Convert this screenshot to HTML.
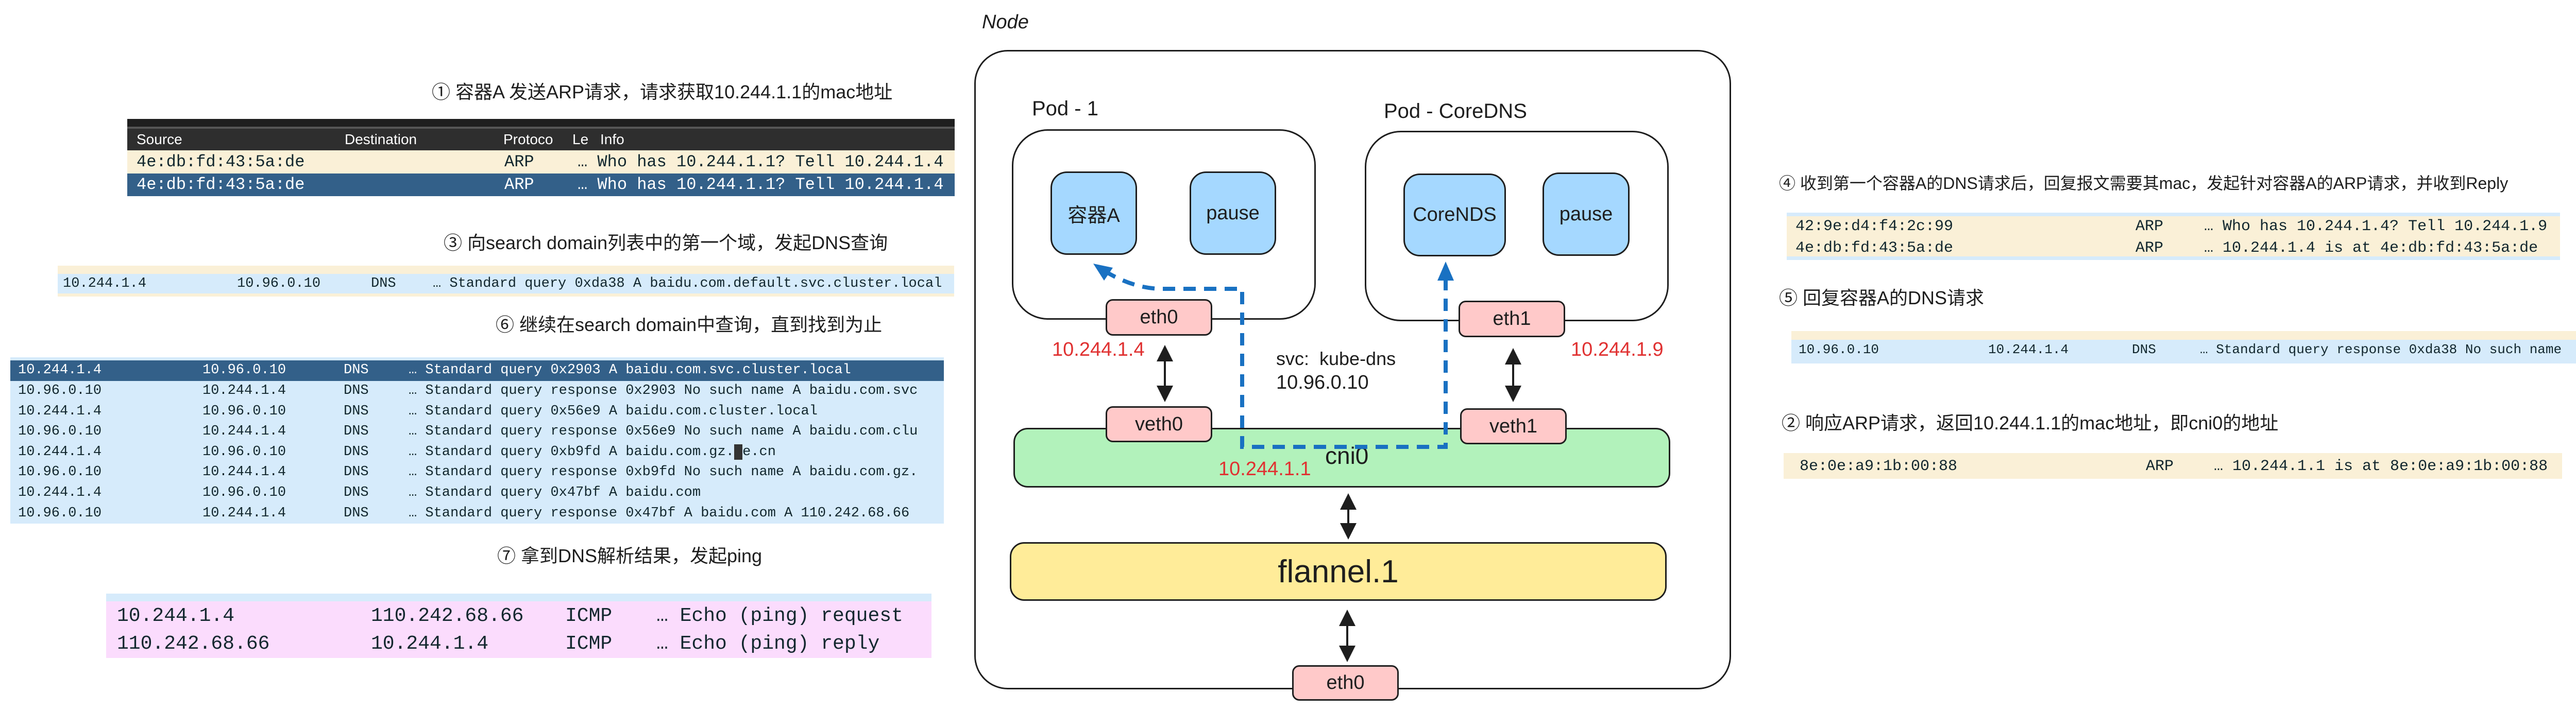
<!DOCTYPE html>
<html><head><meta charset="utf-8"><style>
body{margin:0;width:5232px;height:1381px;background:#fff;position:relative;overflow:hidden;font-family:"Liberation Sans","Noto Sans CJK SC",sans-serif;}
.a{position:absolute;white-space:pre;}
.h{position:absolute;white-space:pre;font-size:36px;color:#1e1e1e;line-height:40px;}
.t{position:absolute;overflow:hidden;}
.m{position:absolute;white-space:pre;font-family:"Liberation Mono","DejaVu Sans Mono",monospace;color:#12272e;}
.bx{position:absolute;box-sizing:border-box;border:3px solid #1e1e1e;}
.lbl{position:absolute;display:flex;align-items:center;justify-content:center;font-size:38px;color:#1e1e1e;}
</style></head><body>

<!-- LEFT -->
<div class="h" style="left:838px;top:159px">① 容器A 发送ARP请求，请求获取10.244.1.1的mac地址</div>
<div class="t" style="left:247px;top:231px;width:1606px;height:150px;">
 <div class="a" style="left:0;top:0;width:1606px;height:19px;background:#1e1e1e;border-bottom:4px solid #555;box-sizing:border-box"></div>
 <div class="a" style="left:0;top:19px;width:1606px;height:42px;background:#2e2e2e;"></div>
 <div class="a" style="left:18px;top:19px;color:#fff;font-size:28px;line-height:42px">Source</div>
 <div class="a" style="left:422px;top:19px;color:#fff;font-size:28px;line-height:42px">Destination</div>
 <div class="a" style="left:730px;top:19px;color:#fff;font-size:28px;line-height:42px">Protoco</div>
 <div class="a" style="left:864px;top:19px;color:#fff;font-size:28px;line-height:42px">Le</div>
 <div class="a" style="left:918px;top:19px;color:#fff;font-size:28px;line-height:42px">Info</div>
 <div class="a" style="left:0;top:61px;width:1606px;height:45px;background:#faf0d7;"></div>
 <div class="a" style="left:0;top:106px;width:1606px;height:44px;background:#336089;"></div>
 <div class="m" style="left:18px;top:64px;font-size:32px;line-height:40px">4e:db:fd:43:5a:de</div>
 <div class="m" style="left:732px;top:64px;font-size:32px;line-height:40px">ARP</div>
 <div class="m" style="left:874px;top:64px;font-size:32px;line-height:40px">… Who has 10.244.1.1? Tell 10.244.1.4</div>
 <div class="m" style="left:18px;top:108px;font-size:32px;line-height:40px;color:#fff">4e:db:fd:43:5a:de</div>
 <div class="m" style="left:732px;top:108px;font-size:32px;line-height:40px;color:#fff">ARP</div>
 <div class="m" style="left:874px;top:108px;font-size:32px;line-height:40px;color:#fff">… Who has 10.244.1.1? Tell 10.244.1.4</div>
</div>

<div class="h" style="left:861px;top:452px">③ 向search domain列表中的第一个域，发起DNS查询</div>
<div class="t" style="left:112px;top:516px;width:1740px;height:60px;">
 <div class="a" style="left:0;top:0;width:1740px;height:16px;background:#faf0d7"></div>
 <div class="a" style="left:0;top:16px;width:1740px;height:38px;background:#d6ebfb"></div>
 <div class="a" style="left:0;top:54px;width:1740px;height:6px;background:#faf0d7"></div>
 <div class="m" style="left:10px;top:18px;font-size:27px;line-height:34px">10.244.1.4</div>
 <div class="m" style="left:348px;top:18px;font-size:27px;line-height:34px">10.96.0.10</div>
 <div class="m" style="left:608px;top:18px;font-size:27px;line-height:34px">DNS</div>
 <div class="m" style="left:728px;top:18px;font-size:27px;line-height:34px">… Standard query 0xda38 A baidu.com.default.svc.cluster.local</div>
</div>

<div class="h" style="left:962px;top:611px">⑥ 继续在search domain中查询，直到找到为止</div>
<div class="t" style="left:20px;top:694px;width:1812px;height:323px;background:#d6ebfb;">
 <div class="a" style="left:0;top:6px;width:1812px;height:40px;background:#336089"></div>
 <div class="m" style="left:15px;top:6px;font-size:27px;line-height:39.6px;color:#fff">10.244.1.4</div>
 <div class="m" style="left:373px;top:6px;font-size:27px;line-height:39.6px;color:#fff">10.96.0.10</div>
 <div class="m" style="left:647px;top:6px;font-size:27px;line-height:39.6px;color:#fff">DNS</div>
 <div class="m" style="left:773px;top:6px;font-size:27px;line-height:39.6px;color:#fff">… Standard query 0x2903 A baidu.com.svc.cluster.local</div>
 <div class="m" style="left:15px;top:46px;font-size:27px;line-height:39.6px">10.96.0.10
10.244.1.4
10.96.0.10
10.244.1.4
10.96.0.10
10.244.1.4
10.96.0.10</div>
 <div class="m" style="left:373px;top:46px;font-size:27px;line-height:39.6px">10.244.1.4
10.96.0.10
10.244.1.4
10.96.0.10
10.244.1.4
10.96.0.10
10.244.1.4</div>
 <div class="m" style="left:647px;top:46px;font-size:27px;line-height:39.6px">DNS
DNS
DNS
DNS
DNS
DNS
DNS</div>
 <div class="m" style="left:773px;top:46px;font-size:27px;line-height:39.6px">… Standard query response 0x2903 No such name A baidu.com.svc
… Standard query 0x56e9 A baidu.com.cluster.local
… Standard query response 0x56e9 No such name A baidu.com.clu
… Standard query 0xb9fd A baidu.com.gz.<span style="background:#333;color:#333">&#160;</span>e.cn
… Standard query response 0xb9fd No such name A baidu.com.gz.
… Standard query 0x47bf A baidu.com
… Standard query response 0x47bf A baidu.com A 110.242.68.66</div>
</div>

<div class="h" style="left:965px;top:1060px">⑦ 拿到DNS解析结果，发起ping</div>
<div class="t" style="left:206px;top:1153px;width:1602px;height:125px;background:#fbdcfd;">
 <div class="a" style="left:0;top:0;width:1602px;height:15px;background:#d6ebfb"></div>
 <div class="m" style="left:21px;top:17px;font-size:38px;line-height:54px">10.244.1.4
110.242.68.66</div>
 <div class="m" style="left:514px;top:17px;font-size:38px;line-height:54px">110.242.68.66
10.244.1.4</div>
 <div class="m" style="left:891px;top:17px;font-size:38px;line-height:54px">ICMP
ICMP</div>
 <div class="m" style="left:1068px;top:17px;font-size:38px;line-height:54px">… Echo (ping) request
… Echo (ping) reply</div>
</div>

<!-- RIGHT -->
<div class="h" style="left:3453px;top:336px;font-size:32px">④ 收到第一个容器A的DNS请求后，回复报文需要其mac，发起针对容器A的ARP请求，并收到Reply</div>
<div class="t" style="left:3468px;top:413px;width:1501px;height:92px;background:#faf0d7;">
 <div class="a" style="left:0;top:0;width:1501px;height:7px;background:#d6ebfb"></div>
 <div class="a" style="left:0;top:85px;width:1501px;height:7px;background:#d6ebfb"></div>
 <div class="m" style="left:17px;top:6px;font-size:30px;line-height:42px">42:9e:d4:f4:2c:99
4e:db:fd:43:5a:de</div>
 <div class="m" style="left:677px;top:6px;font-size:30px;line-height:42px">ARP
ARP</div>
 <div class="m" style="left:810px;top:6px;font-size:30px;line-height:42px">… Who has 10.244.1.4? Tell 10.244.1.9
… 10.244.1.4 is at 4e:db:fd:43:5a:de</div>
</div>

<div class="h" style="left:3453px;top:559px">⑤ 回复容器A的DNS请求</div>
<div class="t" style="left:3477px;top:643px;width:1601px;height:63px;background:#d6ebfb;">
 <div class="a" style="left:0;top:0;width:1601px;height:17px;background:#faf0d7"></div>
 <div class="m" style="left:14px;top:18px;font-size:26px;line-height:36px">10.96.0.10</div>
 <div class="m" style="left:382px;top:18px;font-size:26px;line-height:36px">10.244.1.4</div>
 <div class="m" style="left:661px;top:18px;font-size:26px;line-height:36px">DNS</div>
 <div class="m" style="left:793px;top:18px;font-size:26px;line-height:36px">… Standard query response 0xda38 No such name</div>
</div>

<div class="h" style="left:3458px;top:802px">② 响应ARP请求，返回10.244.1.1的mac地址，即cni0的地址</div>
<div class="t" style="left:3462px;top:880px;width:1511px;height:50px;background:#faf0d7;">
 <div class="m" style="left:31px;top:7px;font-size:30px;line-height:38px">8e:0e:a9:1b:00:88</div>
 <div class="m" style="left:703px;top:7px;font-size:30px;line-height:38px">ARP</div>
 <div class="m" style="left:835px;top:7px;font-size:30px;line-height:38px">… 10.244.1.1 is at 8e:0e:a9:1b:00:88</div>
</div>

<!-- MIDDLE DIAGRAM -->
<div class="a" style="left:1906px;top:22px;font-size:38px;font-style:italic;color:#1e1e1e">Node</div>
<div class="bx" style="left:1891px;top:97px;width:1469px;height:1242px;border-radius:65px"></div>
<div class="a" style="left:2003px;top:189px;font-size:40px;color:#1e1e1e">Pod - 1</div>
<div class="a" style="left:2686px;top:194px;font-size:40px;color:#1e1e1e">Pod - CoreDNS</div>
<div class="bx" style="left:1964px;top:251px;width:590px;height:370px;border-radius:70px"></div>
<div class="bx" style="left:2649px;top:254px;width:590px;height:370px;border-radius:70px"></div>
<div class="bx lbl" style="left:2039px;top:333px;width:168px;height:162px;border-radius:32px;background:#a5d8ff">容器A</div>
<div class="bx lbl" style="left:2309px;top:333px;width:168px;height:162px;border-radius:32px;background:#a5d8ff">pause</div>
<div class="bx lbl" style="left:2724px;top:337px;width:199px;height:161px;border-radius:32px;background:#a5d8ff">CoreNDS</div>
<div class="bx lbl" style="left:2994px;top:335px;width:169px;height:162px;border-radius:32px;background:#a5d8ff">pause</div>

<div class="bx" style="left:1967px;top:831px;width:1275px;height:116px;border-radius:28px;background:#b2f2bb"></div>
<div class="bx" style="left:1960px;top:1053px;width:1275px;height:114px;border-radius:28px;background:#ffec99"></div>
<div class="lbl" style="left:1960px;top:1053px;width:1275px;height:114px;font-size:62px">flannel.1</div>
<div class="a" style="left:2572px;top:858px;font-size:46px;color:#1e1e1e">cni0</div>
<div class="a" style="left:2365px;top:890px;font-size:38px;color:#e03131">10.244.1.1</div>

<div class="bx lbl" style="left:2146px;top:581px;width:207px;height:71px;border-radius:14px;background:#ffc9c9">eth0</div>
<div class="bx lbl" style="left:2831px;top:584px;width:207px;height:71px;border-radius:14px;background:#ffc9c9">eth1</div>
<div class="bx lbl" style="left:2146px;top:789px;width:207px;height:70px;border-radius:14px;background:#ffc9c9">veth0</div>
<div class="bx lbl" style="left:2834px;top:793px;width:207px;height:70px;border-radius:14px;background:#ffc9c9">veth1</div>
<div class="bx lbl" style="left:2508px;top:1292px;width:207px;height:69px;border-radius:14px;background:#ffc9c9">eth0</div>

<div class="a" style="left:2042px;top:658px;font-size:38px;color:#e03131">10.244.1.4</div>
<div class="a" style="left:3049px;top:658px;font-size:38px;color:#e03131">10.244.1.9</div>
<div class="a" style="left:2477px;top:676px;font-size:36px;color:#1e1e1e">svc:  kube-dns</div>
<div class="a" style="left:2477px;top:722px;font-size:38px;color:#1e1e1e">10.96.0.10</div>

<svg width="5232" height="1381" style="position:absolute;left:0;top:0" xmlns="http://www.w3.org/2000/svg">
<defs>
<marker id="k" markerWidth="8" markerHeight="8" refX="6" refY="4" orient="auto-start-reverse" markerUnits="strokeWidth"><path d="M0,0 L8,4 L0,8 z" fill="#1e1e1e"/></marker>
</defs>
<g stroke="#1e1e1e" stroke-width="4" fill="none">
<line x1="2261" y1="678" x2="2261" y2="773" marker-start="url(#k)" marker-end="url(#k)"/>
<line x1="2937" y1="684" x2="2937" y2="773" marker-start="url(#k)" marker-end="url(#k)"/>
<line x1="2617" y1="966" x2="2617" y2="1040" marker-start="url(#k)" marker-end="url(#k)"/>
<line x1="2615" y1="1192" x2="2615" y2="1278" marker-start="url(#k)" marker-end="url(#k)"/>
</g>
<g stroke="#1971c2" stroke-width="8" fill="none" stroke-dasharray="24 16">
<path d="M2806,540 L2806,868 L2411,868 L2411,561 L2253,561 Q2200,560 2145,527"/>
</g>
<path d="M2806,508 L2790,545 L2822,545 z" fill="#1971c2"/>
<path d="M2122,512 L2160,520 L2143,545 z" fill="#1971c2"/>
</svg>
</body></html>
